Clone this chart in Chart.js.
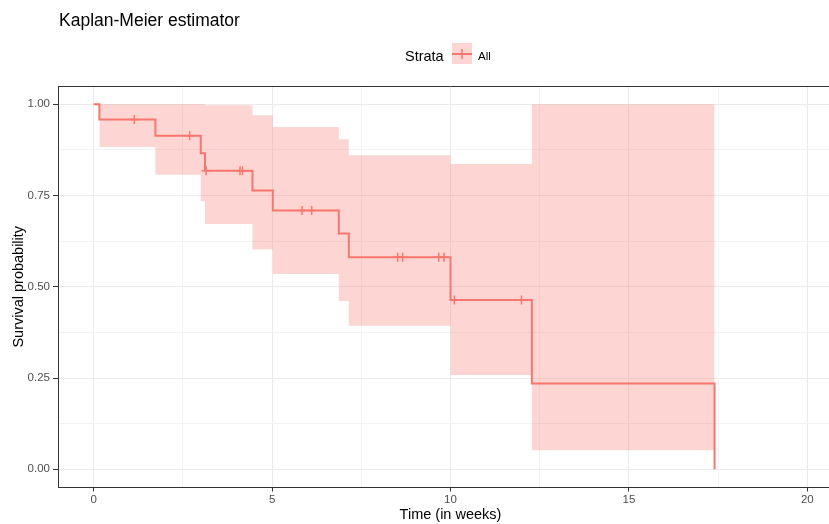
<!DOCTYPE html>
<html>
<head>
<meta charset="utf-8">
<title>Kaplan-Meier estimator</title>
<script src="https://cdn.jsdelivr.net/npm/chart.js@4.4.1/dist/chart.umd.min.js"></script>
<style>
  html, body { margin: 0; padding: 0; background: #fff; overflow: hidden; }
  #wrap { width: 829px; height: 524px; overflow: hidden; }
</style>
</head>
<body>
<div id="wrap"><canvas id="kmChart" width="849" height="524"></canvas></div>
<script>
// KM curve: times where the survival drops, and the value after each drop
const eventTimes = [0, 0.16, 1.73, 3.0, 3.12, 4.45, 5.02, 6.87, 7.15, 10.0, 12.28, 17.4];
const survival   = [1, 0.958, 0.914, 0.866, 0.818, 0.764, 0.709, 0.646, 0.581, 0.464, 0.235, 0];

// 95% confidence band
const bandTimes = [0.16, 1.73, 3.0, 3.12, 4.45, 5.02, 6.87, 7.15, 10.0, 12.28, 17.4];
const upperCI   = [1, 1, 1, 0.997, 0.970, 0.938, 0.904, 0.860, 0.836, 1, 1];
const lowerCI   = [0.883, 0.807, 0.734, 0.672, 0.602, 0.535, 0.461, 0.393, 0.258, 0.052, 0.052];

// censored observations
const censorTimes = [1.14, 2.69, 3.15, 4.1, 4.17, 5.84, 6.11, 8.52, 8.66, 9.67, 9.82, 10.11, 11.99];

const xTicks = [0, 2.5, 5, 7.5, 10, 12.5, 15, 17.5, 20];
const yTicks = [0, 0.125, 0.25, 0.375, 0.5, 0.625, 0.75, 0.875, 1];
const xLabels = ['0', '5', '10', '15', '20'];
const yLabels = ['0.00', '0.25', '0.50', '0.75', '1.00'];

const lineColor = '#F8766D';
const bandColor = 'rgba(248, 118, 109, 0.3)';
const textColor = '#4D4D4D';

// survival value in effect at time t
function survivalAt(t) {
  let s = survival[0];
  for (let i = 0; i < eventTimes.length; i++) {
    if (eventTimes[i] <= t) s = survival[i];
  }
  return s;
}

let pts = (xs, ys) => xs.map((x, i) => ({ x: x, y: ys[i] }));

let isMajorX = v => xLabels.includes(String(v));
let isMajorY = v => yLabels.includes(v.toFixed(2));

// title, legend and panel border
const decorations = {
  id: 'decorations',
  afterDraw(chart) {
    let ctx = chart.ctx;
    let area = chart.chartArea;
    ctx.save();

    ctx.strokeStyle = '#333333';
    ctx.lineWidth = 1;
    ctx.beginPath();
    ctx.moveTo(area.left, area.top + 0.5);
    ctx.lineTo(area.right, area.top + 0.5);
    ctx.moveTo(area.right - 0.5, area.top);
    ctx.lineTo(area.right - 0.5, area.bottom);
    ctx.stroke();

    ctx.fillStyle = '#000000';
    ctx.textBaseline = 'alphabetic';
    ctx.font = '17.5px "Liberation Sans", Arial, sans-serif';
    ctx.fillText('Kaplan-Meier estimator', 59, 26);

    ctx.font = '14.5px "Liberation Sans", Arial, sans-serif';
    ctx.fillText('Strata', 405, 61);

    // legend key
    ctx.fillStyle = bandColor;
    ctx.fillRect(452, 43, 20, 21);
    ctx.strokeStyle = lineColor;
    ctx.lineWidth = 2;
    ctx.beginPath();
    ctx.moveTo(452, 54);
    ctx.lineTo(472, 54);
    ctx.stroke();
    ctx.lineWidth = 1.5;
    ctx.beginPath();
    ctx.moveTo(462, 49);
    ctx.lineTo(462, 59);
    ctx.stroke();

    ctx.fillStyle = '#000000';
    ctx.font = '11.5px "Liberation Sans", Arial, sans-serif';
    ctx.fillText('All', 478, 60);
    ctx.restore();
  }
};

let ctx = document.getElementById('kmChart').getContext('2d');

let kmChart = new Chart(ctx, {
  type: 'line',
  data: {
    datasets: [
      {
        label: 'censored',
        data: censorTimes.map(t => ({ x: t, y: survivalAt(t) })),
        showLine: false,
        pointStyle: 'cross',
        pointRadius: 4.5,
        pointBorderWidth: 1.5,
        pointBorderColor: lineColor,
        pointBackgroundColor: lineColor,
        order: 0
      },
      {
        label: 'All',
        data: pts(eventTimes, survival),
        stepped: 'before',
        borderColor: lineColor,
        borderWidth: 2,
        pointRadius: 0,
        fill: false,
        order: 1
      },
      {
        label: 'upper',
        data: pts(bandTimes, upperCI),
        stepped: 'before',
        borderWidth: 0,
        borderColor: 'rgba(0,0,0,0)',
        pointRadius: 0,
        backgroundColor: bandColor,
        fill: '+1',
        order: 2
      },
      {
        label: 'lower',
        data: pts(bandTimes, lowerCI),
        stepped: 'before',
        borderWidth: 0,
        borderColor: 'rgba(0,0,0,0)',
        pointRadius: 0,
        fill: false,
        order: 3
      }
    ]
  },
  options: {
    responsive: false,
    animation: false,
    devicePixelRatio: 1,
    layout: { padding: { top: 86, right: 0, left: 0, bottom: 0 } },
    plugins: {
      legend: { display: false },
      title: { display: false },
      tooltip: { enabled: false }
    },
    scales: {
      x: {
        type: 'linear',
        min: -1,
        max: 21,
        afterBuildTicks: axis => { axis.ticks = xTicks.map(v => ({ value: v })); },
        afterFit: axis => { axis.height = 36.5; },
        grid: {
          color: c => isMajorX(c.tick.value) ? '#EBEBEB' : '#F3F3F3',
          lineWidth: 1,
          tickColor: c => isMajorX(c.tick.value) ? '#333333' : 'rgba(0,0,0,0)',
          tickLength: 4
        },
        border: { color: '#333333', width: 1 },
        ticks: {
          autoSkip: false,
          maxRotation: 0,
          padding: 1,
          color: textColor,
          font: { family: '"Liberation Sans", Arial, sans-serif', size: 11.5 },
          callback: v => isMajorX(v) ? String(v) : ''
        },
        title: {
          display: true,
          text: 'Time (in weeks)',
          color: '#000000',
          padding: { top: 0, bottom: 0 },
          font: { family: '"Liberation Sans", Arial, sans-serif', size: 14.5 }
        }
      },
      y: {
        min: -0.05,
        max: 1.05,
        afterBuildTicks: axis => { axis.ticks = yTicks.map(v => ({ value: v })); },
        afterFit: axis => { axis.width = 58; },
        grid: {
          color: c => isMajorY(c.tick.value) ? '#EBEBEB' : '#F3F3F3',
          lineWidth: 1,
          tickColor: c => isMajorY(c.tick.value) ? '#333333' : 'rgba(0,0,0,0)',
          tickLength: 5
        },
        border: { color: '#333333', width: 1 },
        ticks: {
          autoSkip: false,
          padding: 3,
          color: textColor,
          font: { family: '"Liberation Sans", Arial, sans-serif', size: 11.5 },
          callback: v => isMajorY(v) ? v.toFixed(2) : ''
        },
        title: {
          display: true,
          text: 'Survival probability',
          color: '#000000',
          padding: { top: 10, bottom: 0 },
          font: { family: '"Liberation Sans", Arial, sans-serif', size: 14.5 }
        }
      }
    }
  },
  plugins: [decorations]
});
</script>
</body>
</html>
